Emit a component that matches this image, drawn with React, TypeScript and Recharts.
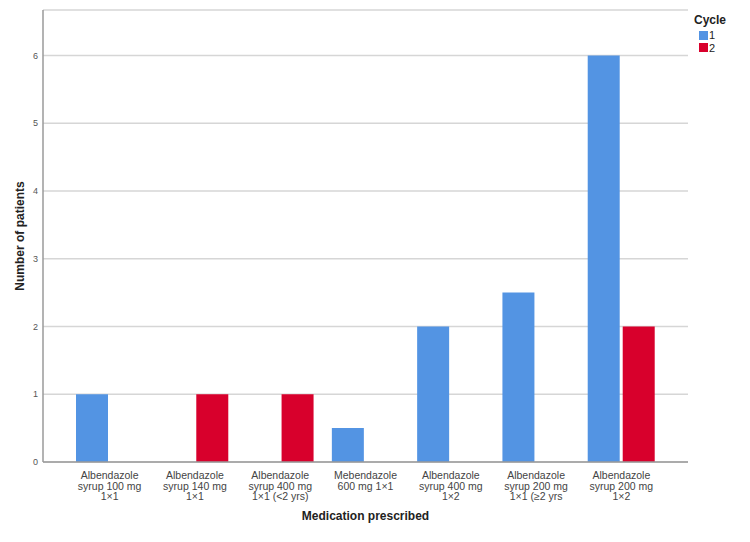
import React from "react";
import { Bar, BarChart, CartesianGrid, XAxis, YAxis } from "recharts";

const CATEGORIES: string[][] = [
  ["Albendazole", "syrup 100 mg", "1×1"],
  ["Albendazole", "syrup 140 mg", "1×1"],
  ["Albendazole", "syrup 400 mg", "1×1 (<2 yrs)"],
  ["Mebendazole", "600 mg 1×1"],
  ["Albendazole", "syrup 400 mg", "1×2"],
  ["Albendazole", "syrup 200 mg", "1×1 (≥2 yrs"],
  ["Albendazole", "syrup 200 mg", "1×2"],
];

const CYCLE_1: (number | null)[] = [1, null, null, 0.5, 2, 2.5, 6];
const CYCLE_2: (number | null)[] = [null, 1, 1, null, null, null, 2];

const Y_TICKS = [0, 1, 2, 3, 4, 5, 6];

const BLUE = "#5394e3";
const RED = "#d8002c";
const FONT = "Arial, 'Liberation Sans', sans-serif";

const data = CATEGORIES.map((lines, i) => ({
  name: lines.join("\n"),
  c1: CYCLE_1[i],
  c2: CYCLE_2[i],
}));

function CategoryTick({ x, y, payload }: any) {
  const lines = String(payload.value).split("\n");
  return (
    <text x={x} y={y} textAnchor="middle" fontSize={10.5} fill="#444" fontFamily={FONT}>
      {lines.map((l, i) => (
        <tspan key={i} x={x} dy={i === 0 ? 9 : 10.5}>
          {l}
        </tspan>
      ))}
    </text>
  );
}

function LegendBox() {
  return (
    <div
      style={{
        position: "absolute",
        left: 694,
        top: 14,
        fontFamily: FONT,
        color: "#222",
        fontSize: 11,
        lineHeight: "12px",
      }}
    >
      <div style={{ fontWeight: "bold", fontSize: 12, marginBottom: 3 }}>Cycle</div>
      {[
        { label: "1", color: BLUE },
        { label: "2", color: RED },
      ].map((it) => (
        <div
          key={it.label}
          style={{ display: "flex", alignItems: "center", marginLeft: 5, height: 12.5 }}
        >
          <span
            style={{
              width: 9,
              height: 9,
              background: it.color,
              display: "inline-block",
              marginRight: 1,
            }}
          />
          <span>{it.label}</span>
        </div>
      ))}
    </div>
  );
}

export default function App() {
  return (
    <div style={{ position: "absolute", left: 0, top: 0, width: 750, height: 542, background: "#fff" }}>
      <BarChart
        width={750}
        height={542}
        data={data}
        margin={{ top: 10, right: 62, left: 23, bottom: 0 }}
        barGap={3}
        barSize={32}
      >
        <CartesianGrid horizontal vertical={false} stroke="#d6d6d6" strokeWidth={1.5} />
        <XAxis
          dataKey="name"
          interval={0}
          tick={<CategoryTick />}
          tickLine={false}
          axisLine={{ stroke: "#9a9a9a", strokeWidth: 1.5 }}
          padding={{ left: 24, right: 24 }}
          height={80}
          label={{
            value: "Medication prescribed",
            position: "insideBottom",
            offset: 22,
            fontSize: 12,
            fontWeight: "bold",
            fill: "#222",
            fontFamily: FONT,
          }}
        />
        <YAxis
          width={20}
          domain={[0, 6.67]}
          ticks={Y_TICKS}
          interval={0}
          tickLine={false}
          tickSize={3}
          axisLine={{ stroke: "#9a9a9a", strokeWidth: 1.5 }}
          tick={{ fontSize: 9, fill: "#555", fontFamily: FONT }}
          label={{
            value: "Number of patients",
            angle: -90,
            position: "left",
            offset: 3,
            textAnchor: "middle",
            fontSize: 12,
            fontWeight: "bold",
            fill: "#222",
            fontFamily: FONT,
          }}
        />
        <Bar dataKey="c1" name="1" fill={BLUE} isAnimationActive={false} />
        <Bar dataKey="c2" name="2" fill={RED} isAnimationActive={false} />
      </BarChart>
      <LegendBox />
    </div>
  );
}
